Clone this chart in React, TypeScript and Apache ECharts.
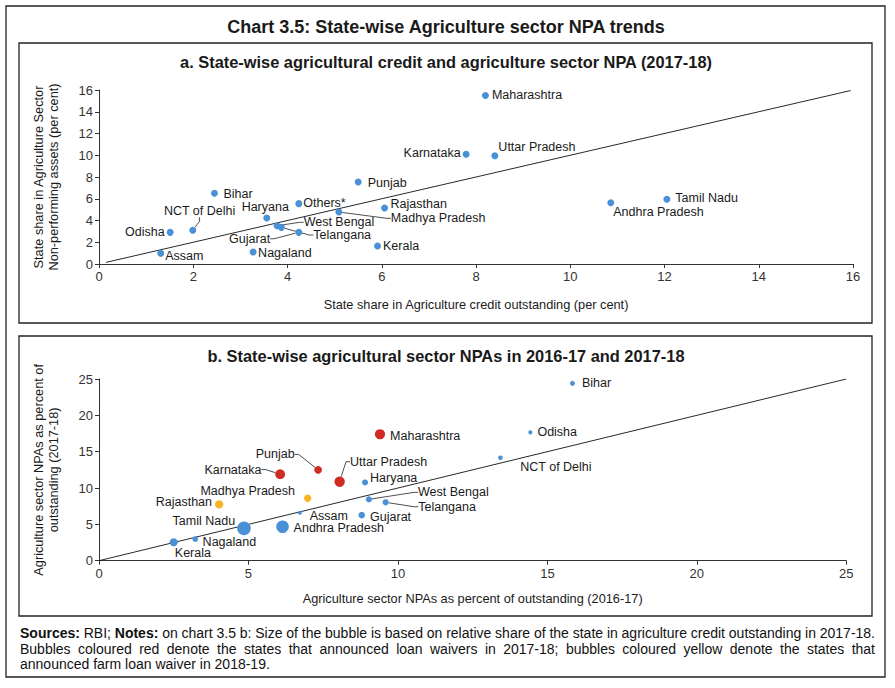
import React, { useEffect, useRef } from "react";
import * as echarts from "echarts";

const FONT = '"Liberation Sans", Arial, Helvetica, sans-serif';

// ---------- Panel a: credit share vs NPA share (2017-18) ----------
const statesA = [
  "Maharashtra", "Karnataka", "Uttar Pradesh", "Tamil Nadu", "Andhra Pradesh",
  "Punjab", "Bihar", "Others*", "Rajasthan", "Madhya Pradesh", "Haryana",
  "West Bengal", "Telangana", "Gujarat", "NCT of Delhi", "Odisha", "Assam",
  "Nagaland", "Kerala",
];
const creditShareA = [8.2, 7.79, 8.4, 12.05, 10.86, 5.5, 2.45, 4.24, 6.06, 5.09, 3.56, 3.78, 3.87, 4.24, 1.99, 1.51, 1.31, 3.27, 5.91];
const npaShareA = [15.5, 10.1, 9.96, 5.95, 5.64, 7.54, 6.5, 5.55, 5.15, 4.78, 4.23, 3.52, 3.37, 2.91, 3.1, 2.91, 0.98, 1.1, 1.66];
const axisA = { min: 0, max: 16, interval: 2 };
const refLineA = [0.15, 15.95]; // y = x reference line ends

// ---------- Panel b: NPA ratio 2016-17 vs 2017-18 ----------
const statesB = [
  "Bihar", "Odisha", "NCT of Delhi", "Maharashtra", "Punjab", "Karnataka",
  "Uttar Pradesh", "Haryana", "Madhya Pradesh", "Rajasthan", "West Bengal",
  "Telangana", "Assam", "Gujarat", "Tamil Nadu", "Andhra Pradesh", "Nagaland", "Kerala",
];
const npaRatio1617 = [15.84, 14.43, 13.43, 9.4, 7.33, 6.06, 8.05, 8.9, 6.98, 4.02, 9.03, 9.59, 6.72, 8.79, 4.85, 6.14, 3.22, 2.5];
const npaRatio1718 = [24.4, 17.66, 14.17, 17.4, 12.5, 11.9, 10.87, 10.77, 8.58, 7.75, 8.44, 8.03, 6.6, 6.28, 4.45, 4.68, 2.98, 2.53];
const waiver2017_18 = ["Maharashtra", "Punjab", "Karnataka", "Uttar Pradesh"];
const waiver2018_19 = ["Madhya Pradesh", "Rajasthan"];
const axisB = { min: 0, max: 25, interval: 5 };
const refLineB = [0, 25];

// ---------- Texts ----------
const mainTitle = "Chart 3.5: State-wise Agriculture sector NPA trends";
const titleA = "a. State-wise agricultural credit and agriculture sector NPA (2017-18)";
const titleB = "b. State-wise agricultural sector NPAs in 2016-17 and 2017-18";
const xNameA = "State share in Agriculture credit outstanding (per cent)";
const yNameA = "State share in Agriculture Sector\nNon-performing assets (per cent)";
const xNameB = "Agriculture sector NPAs as percent of outstanding (2016-17)";
const yNameB = "Agriculture sector NPAs as percent of\noutstanding (2017-18)";
const footLines = [
  "Sources: RBI; Notes: on chart 3.5 b: Size of the bubble is based on relative share of the state in agriculture credit outstanding in 2017-18.",
  "Bubbles coloured red denote the states that announced loan waivers in 2017-18; bubbles coloured yellow denote the states that",
  "announced farm loan waiver in 2018-19.",
];
const boldWords = ["Sources:", "Notes:"];

// ---------- Styles / layout ----------
const BLUE = "#4a90d6";
const RED = "#d22b25";
const YELLOW = "#f7b425";
const INK = "#1a1a1a";

type Lbl = { pos: "left" | "right" | "top" | "bottom"; dist: number; dx: number; dy: number; line?: boolean };
const labelA: Record<string, Lbl> = {
  "Maharashtra": { pos: "right", dist: 3, dx: 0, dy: 0 },
  "Karnataka": { pos: "left", dist: 2, dx: 0, dy: -1 },
  "Uttar Pradesh": { pos: "right", dist: 0, dx: 0, dy: -8.5 },
  "Tamil Nadu": { pos: "right", dist: 5, dx: 0, dy: -1 },
  "Andhra Pradesh": { pos: "right", dist: 0, dx: -1, dy: 9.5 },
  "Punjab": { pos: "right", dist: 6, dx: 0, dy: 1 },
  "Bihar": { pos: "right", dist: 5.5, dx: 0, dy: 1 },
  "Others*": { pos: "right", dist: 1, dx: 0, dy: -1 },
  "Rajasthan": { pos: "right", dist: 2.5, dx: 0, dy: -4 },
  "Madhya Pradesh": { pos: "right", dist: 2, dx: 46.5, dy: 6.3, line: true },
  "Haryana": { pos: "top", dist: 0.5, dx: -1.5, dy: 0 },
  "West Bengal": { pos: "right", dist: 2, dx: 21, dy: -3.4, line: true },
  "Telangana": { pos: "right", dist: 2, dx: 26.5, dy: 7.7, line: true },
  "Gujarat": { pos: "left", dist: 2, dx: -23.2, dy: 6.4, line: true },
  "NCT of Delhi": { pos: "top", dist: 2, dx: 6.8, dy: -7.6, line: true },
  "Odisha": { pos: "left", dist: 2, dx: 0, dy: 0 },
  "Assam": { pos: "right", dist: 1, dx: 0, dy: 2.4 },
  "Nagaland": { pos: "right", dist: 1.5, dx: 0, dy: 1 },
  "Kerala": { pos: "right", dist: 2, dx: 0, dy: 0.5 },
};
const labelB: Record<string, Lbl> = {
  "Bihar": { pos: "right", dist: 7, dx: 0, dy: 0 },
  "Odisha": { pos: "right", dist: 5, dx: 0, dy: 0 },
  "NCT of Delhi": { pos: "right", dist: 2, dx: 15.5, dy: 9 },
  "Maharashtra": { pos: "right", dist: 5, dx: 0, dy: 2 },
  "Punjab": { pos: "left", dist: 2, dx: -17.6, dy: -15.4, line: true },
  "Karnataka": { pos: "left", dist: 2, dx: -11.8, dy: -4.7, line: true },
  "Uttar Pradesh": { pos: "right", dist: 2, dx: 3.2, dy: -20, line: true },
  "Haryana": { pos: "right", dist: 2, dx: 0, dy: -4.6 },
  "Madhya Pradesh": { pos: "left", dist: 9, dx: 0, dy: -7.3 },
  "Rajasthan": { pos: "left", dist: 3, dx: 0, dy: -2.6 },
  "West Bengal": { pos: "right", dist: 2, dx: 44, dy: -7, line: true },
  "Telangana": { pos: "right", dist: 2, dx: 27.4, dy: 4.4, line: true },
  "Assam": { pos: "right", dist: 2, dx: 5.8, dy: 3.3 },
  "Gujarat": { pos: "right", dist: 5, dx: 0, dy: 1.7 },
  "Tamil Nadu": { pos: "left", dist: 2, dx: 0, dy: -7.3 },
  "Andhra Pradesh": { pos: "right", dist: 4.8, dx: 0, dy: 1.6 },
  "Nagaland": { pos: "right", dist: 4.5, dx: 0, dy: 2.7 },
  "Kerala": { pos: "right", dist: 2, dx: -5, dy: 11 },
};

function bubbleSize(state: string): number {
  const i = statesA.indexOf(state);
  const share = i >= 0 ? creditShareA[i] : 3;
  return 2.8 + 0.9 * share;
}

function bubbleColor(state: string): string {
  if (waiver2017_18.includes(state)) return RED;
  if (waiver2018_19.includes(state)) return YELLOW;
  return BLUE;
}

function axisCommon(cfg: { min: number; max: number; interval: number }) {
  return {
    type: "value" as const,
    min: cfg.min,
    max: cfg.max,
    interval: cfg.interval,
    axisLine: { show: true, lineStyle: { color: "#333", width: 1 } },
    axisTick: { show: true, inside: false, length: 4, lineStyle: { color: "#333" } },
    splitLine: { show: false },
    axisLabel: { color: "#333", fontSize: 13, fontFamily: FONT, margin: 6 },
    nameTextStyle: { color: INK, fontSize: 12.75, fontFamily: FONT, lineHeight: 15 },
    nameLocation: "middle" as const,
  };
}

function footnoteElements(): any[] {
  const canvas = document.createElement("canvas");
  const ctx = canvas.getContext("2d")!;
  const left = 20;
  const right = 875;
  const ys = [633, 649, 664];
  const els: any[] = [];
  footLines.forEach((line, li) => {
    const words = line.split(" ");
    const weights = words.map((w) => (boldWords.includes(w) ? "bold" : "normal"));
    const widths = words.map((w, i) => {
      ctx.font = `${weights[i]} 14px ${FONT}`;
      return ctx.measureText(w).width;
    });
    ctx.font = `normal 14px ${FONT}`;
    const space = ctx.measureText(" ").width;
    const total = widths.reduce((a, b) => a + b, 0);
    const justify = li < footLines.length - 1;
    const gap = justify ? (right - left - total) / (words.length - 1) : space;
    let x = left;
    words.forEach((w, i) => {
      els.push({
        type: "text",
        x,
        y: ys[li],
        silent: true,
        style: {
          text: w,
          fontSize: 14,
          fontWeight: weights[i],
          fontFamily: FONT,
          fill: "#111",
          align: "left",
          verticalAlign: "middle",
        },
      });
      x += widths[i] + gap;
    });
  });
  return els;
}

function frame(x: number, y: number, w: number, h: number) {
  return {
    type: "rect",
    silent: true,
    z: -10,
    shape: { x, y, width: w, height: h },
    style: { fill: "none", stroke: "#222", lineWidth: 1.3 },
  };
}

function titleText(text: string, y: number, size: number) {
  return {
    type: "text",
    x: 446,
    y,
    silent: true,
    style: {
      text,
      fontSize: size,
      fontWeight: "bold",
      fontFamily: FONT,
      fill: INK,
      align: "center",
      verticalAlign: "middle",
    },
  };
}

export default function App() {
  const ref = useRef<HTMLDivElement>(null);

  useEffect(() => {
    if (!ref.current) return;
    const chart = echarts.init(ref.current, undefined, { renderer: "svg" });

    const dataA = statesA.map((s, i) => ({
      name: s,
      value: [creditShareA[i], npaShareA[i]],
      label: { position: labelA[s].pos, distance: labelA[s].dist },
      labelLine: { show: !!labelA[s].line },
    }));
    const dataB = statesB.map((s, i) => ({
      name: s,
      value: [npaRatio1617[i], npaRatio1718[i]],
      symbolSize: bubbleSize(s),
      itemStyle: { color: bubbleColor(s) },
      label: { position: labelB[s].pos, distance: labelB[s].dist },
      labelLine: { show: !!labelB[s].line },
    }));

    const labelStyle = {
      show: true,
      formatter: "{b}",
      color: INK,
      fontSize: 12.5,
      fontFamily: FONT,
    };
    const lineStyleLbl = { length2: 4, lineStyle: { color: "#222", width: 0.8 } };

    const option: any = {
      animation: false,
      backgroundColor: "#fff",
      textStyle: { fontFamily: FONT },
      grid: [
        { left: 99, right: 42, top: 90, bottom: 424 },
        { left: 99, right: 48.7, top: 379, bottom: 127.3 },
      ],
      xAxis: [
        { ...axisCommon(axisA), gridIndex: 0, name: xNameA, nameGap: 32.5 },
        { ...axisCommon(axisB), gridIndex: 1, name: xNameB, nameGap: 30 },
      ],
      yAxis: [
        { ...axisCommon(axisA), gridIndex: 0, name: yNameA, nameGap: 38.5, nameRotate: 90 },
        { ...axisCommon(axisB), gridIndex: 1, name: yNameB, nameGap: 38.5, nameRotate: 90 },
      ],
      series: [
        {
          type: "line",
          xAxisIndex: 0,
          yAxisIndex: 0,
          data: refLineA.map((v) => [v, v]),
          symbol: "none",
          silent: true,
          lineStyle: { color: "#111", width: 0.9 },
          z: 1,
        },
        {
          type: "scatter",
          xAxisIndex: 0,
          yAxisIndex: 0,
          data: dataA,
          symbolSize: 7,
          itemStyle: { color: BLUE, opacity: 1 },
          label: labelStyle,
          labelLine: lineStyleLbl,
          labelLayout: (p: any) => {
            const c = labelA[statesA[p.dataIndex]];
            return { dx: c.dx, dy: c.dy };
          },
          z: 3,
        },
        {
          type: "line",
          xAxisIndex: 1,
          yAxisIndex: 1,
          data: refLineB.map((v) => [v, v]),
          symbol: "none",
          silent: true,
          lineStyle: { color: "#111", width: 0.9 },
          z: 1,
        },
        {
          type: "scatter",
          xAxisIndex: 1,
          yAxisIndex: 1,
          data: dataB,
          itemStyle: { opacity: 1 },
          label: labelStyle,
          labelLine: lineStyleLbl,
          labelLayout: (p: any) => {
            const c = labelB[statesB[p.dataIndex]];
            return { dx: c.dx, dy: c.dy };
          },
          z: 3,
        },
      ],
      graphic: [
        frame(6, 6, 879, 671),
        frame(19, 43, 853, 280),
        frame(19, 336, 853, 280),
        titleText(mainTitle, 27, 18),
        titleText(titleA, 62, 16.4),
        titleText(titleB, 356, 16.4),
        ...footnoteElements(),
      ],
    };

    chart.setOption(option);
    return () => chart.dispose();
  }, []);

  return (
    <div
      ref={ref}
      style={{ position: "absolute", left: 0, top: 0, width: 895, height: 688, background: "#fff" }}
    />
  );
}
